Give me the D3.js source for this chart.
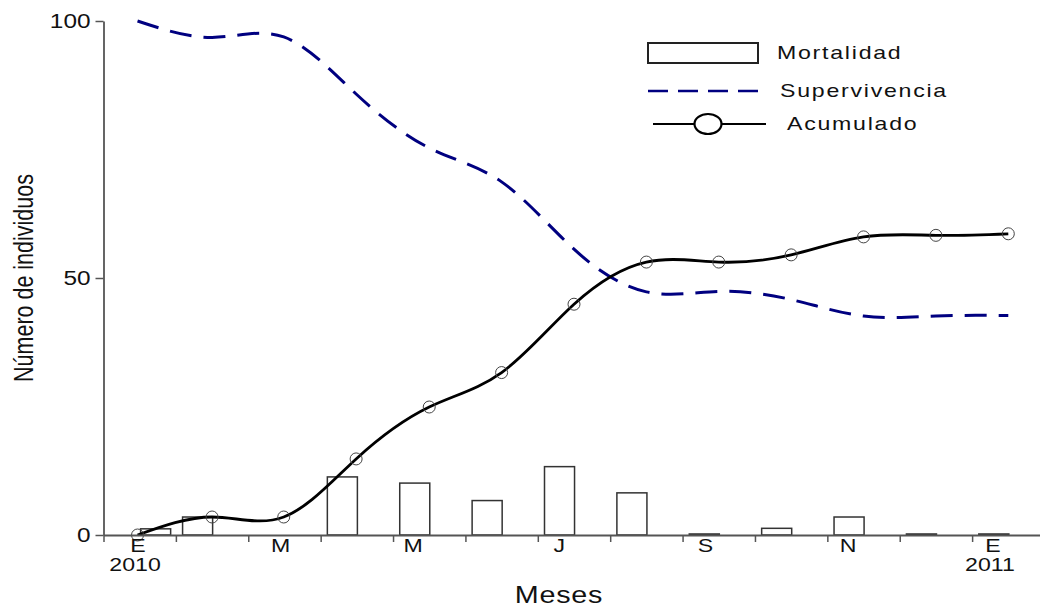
<!DOCTYPE html>
<html>
<head>
<meta charset="utf-8">
<script src="https://cdn.jsdelivr.net/npm/d3@7"></script>
<style>
  html, body { margin: 0; padding: 0; background: #fff; }
  svg { display: block; font-family: "Liberation Sans", Arial, sans-serif; }
</style>
</head>
<body>
<svg id="chart" width="1040" height="608"></svg>
<script>
// ---------------- data ----------------
const months        = ["E","F","M","A","M","J","J","A","S","O","N","D","E"];
const mortalidad    = [1.2, 3.5, 0, 11.3, 10.1, 6.7, 13.3, 8.2, 0.2, 1.3, 3.5, 0.2, 0.2];
const barCentre     = [0.72, 1.3, 2.3, 3.3, 4.3, 5.3, 6.3, 7.3, 8.3, 9.3, 10.3, 11.3, 12.3];
const supervivencia = [100, 96.8, 96.9, 85.8, 75.3, 68.7, 55.6, 47.3, 47.4, 45.8, 42.6, 42.6, 42.7];
const acumulado     = [0, 3.5, 3.5, 14.8, 24.9, 31.6, 44.9, 53.1, 53.1, 54.5, 58.0, 58.3, 58.6];
const pointPos      = [0.47, 1.5, 2.49, 3.49, 4.5, 5.5, 6.5, 7.5, 8.5, 9.5, 10.5, 11.5, 12.5];
const yTicks        = [0, 50, 100];
const xTickMarks    = [0,1,2,3,4,5,6,7,8,9,10,11,12];
const xTickLabels   = ["E","M","M","J","S","N","E"];
const xLabelPos     = [0.47, 2.44, 4.27, 6.29, 8.31, 10.28, 12.28];
const yearLabels    = ["2010", "", "", "", "", "", "2011"];
const legendNames   = ["Mortalidad", "Supervivencia", "Acumulado"];

// ---------------- layout ----------------
const SX = 1.25;           // horizontal stretch of the reference's text
const svg = d3.select("#chart");
const x = d3.scaleLinear().domain([0, 13]).range([103.5, 1044.5]);
const y = d3.scaleLinear().domain([0, 100]).range([535, 21]);
const AXIS = "#555";
const TXT = "#111";

// bars
const barW = x(0.415) - x(0);
svg.append("g").selectAll("rect")
  .data(mortalidad)
  .join("rect")
  .attr("x", (d, i) => x(barCentre[i]) - barW / 2)
  .attr("y", d => y(d))
  .attr("width", barW)
  .attr("height", d => y(0) - y(d))
  .attr("fill", "#fff")
  .attr("stroke", d => d > 0 ? "#333" : "none")
  .attr("stroke-width", 1.5);

// supervivencia
const line = (vals) => d3.line()
  .x((d, i) => x(pointPos[i]))
  .y(d => y(d))
  .curve(d3.curveNatural)(vals);

svg.append("path")
  .attr("d", line(supervivencia))
  .attr("fill", "none")
  .attr("stroke", "#000080")
  .attr("stroke-width", 3)
  .attr("stroke-dasharray", "22,12");

// acumulado
svg.append("path")
  .attr("d", line(acumulado))
  .attr("fill", "none")
  .attr("stroke", "#000")
  .attr("stroke-width", 2.8);

svg.append("g").selectAll("circle")
  .data(acumulado)
  .join("circle")
  .attr("cx", (d, i) => x(pointPos[i]))
  .attr("cy", d => y(d))
  .attr("r", 6)
  .attr("fill", "none")
  .attr("stroke", "#444")
  .attr("stroke-width", 1);

// y axis
const gy = svg.append("g")
  .attr("transform", "translate(103.5,0)")
  .call(d3.axisLeft(y).tickValues(yTicks).tickSize(8).tickSizeOuter(0).tickPadding(0));
gy.select(".domain").attr("stroke", AXIS).attr("stroke-width", 1.8);
gy.selectAll(".tick line").attr("stroke", AXIS).attr("stroke-width", 1.5);
gy.selectAll(".tick text")
  .attr("x", -13 / SX)
  .attr("transform", `scale(${SX},1)`)
  .attr("fill", TXT)
  .style("font-size", "19.5px")
  .style("font-family", "'Liberation Sans', Arial, sans-serif");

// x axis tick marks
const gx = svg.append("g")
  .attr("transform", `translate(0,${y(0)})`)
  .call(d3.axisBottom(x).tickValues(xTickMarks).tickSize(7).tickSizeOuter(0).tickFormat(""));
gx.select(".domain").attr("stroke", AXIS).attr("stroke-width", 1.8);
gx.selectAll(".tick line").attr("stroke", AXIS).attr("stroke-width", 1.5);

// x axis labels
const gl = svg.append("g")
  .attr("transform", `translate(0,${y(0)})`)
  .call(d3.axisBottom(x).tickValues(xLabelPos).tickSize(0).tickPadding(3.5)
        .tickFormat((d, i) => xTickLabels[i]));
gl.select(".domain").remove();
gl.selectAll(".tick text")
  .attr("transform", `scale(${SX},1)`)
  .attr("fill", TXT)
  .style("font-size", "18.5px")
  .style("font-family", "'Liberation Sans', Arial, sans-serif");
gl.selectAll(".tick").each(function(d, i) {
  if (!yearLabels[i]) return;
  d3.select(this).append("text")
    .attr("x", -3 / SX)
    .attr("y", 36)
    .attr("transform", `scale(${SX},1)`)
    .attr("text-anchor", "middle")
    .attr("fill", TXT)
    .style("font-size", "18.5px")
    .style("font-family", "'Liberation Sans', Arial, sans-serif")
    .text(yearLabels[i]);
});

// axis titles
svg.append("text")
  .attr("transform", `translate(559,603) scale(${SX},1)`)
  .attr("text-anchor", "middle")
  .attr("fill", TXT)
  .style("font-size", "23px")
  .style("letter-spacing", "0.6px")
  .text("Meses");

svg.append("text")
  .attr("transform", `translate(33,278) scale(${SX},1) rotate(-90)`)
  .attr("text-anchor", "middle")
  .attr("fill", TXT)
  .style("font-size", "21.5px")
  .text("Número de individuos");

// legend
const lg = svg.append("g");
lg.append("rect")
  .attr("x", 648).attr("y", 43).attr("width", 110).attr("height", 20)
  .attr("fill", "#fff").attr("stroke", "#222").attr("stroke-width", 2);
lg.append("line")
  .attr("x1", 648).attr("x2", 758).attr("y1", 91).attr("y2", 91)
  .attr("stroke", "#000080").attr("stroke-width", 2.5).attr("stroke-dasharray", "20,10");
lg.append("line")
  .attr("x1", 653).attr("x2", 766).attr("y1", 124).attr("y2", 124)
  .attr("stroke", "#000").attr("stroke-width", 2);
lg.append("ellipse")
  .attr("cx", 708).attr("cy", 124).attr("rx", 13.5).attr("ry", 10)
  .attr("fill", "#fff").attr("stroke", "#000").attr("stroke-width", 2.2);

const legendText = [[777, 59], [780, 97], [787, 130]];
lg.selectAll("text.leg")
  .data(legendNames)
  .join("text")
  .attr("class", "leg")
  .attr("transform", (d, i) => `translate(${legendText[i][0]},${legendText[i][1]}) scale(${SX},1)`)
  .attr("fill", TXT)
  .style("font-size", "18.5px")
  .style("letter-spacing", "1.4px")
  .text(d => d);
</script>
</body>
</html>
